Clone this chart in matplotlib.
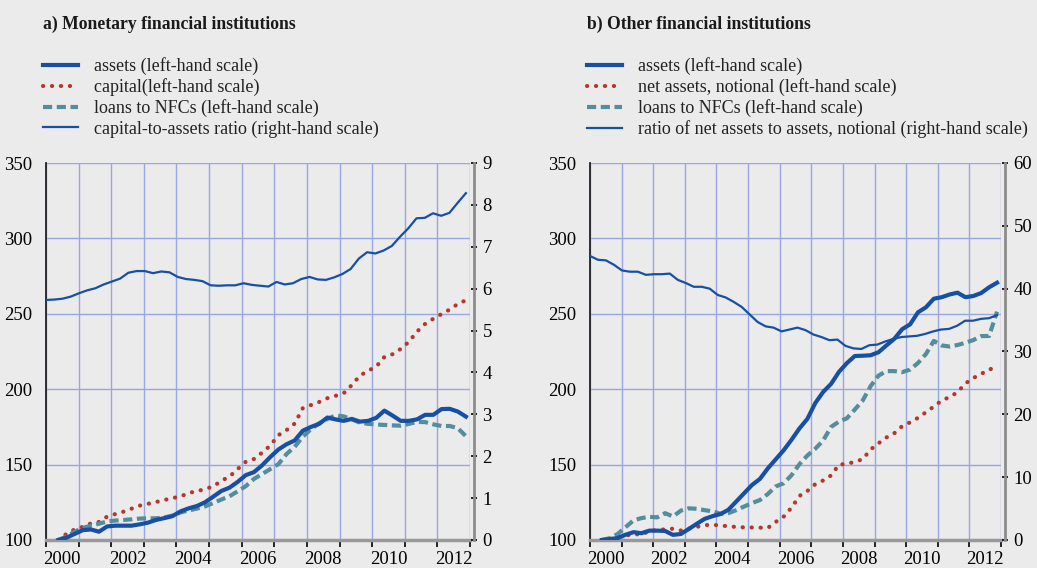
import numpy as np
import matplotlib
matplotlib.use('Agg')
import matplotlib.pyplot as plt

plt.rcParams['font.family'] = ['Liberation Serif', 'DejaVu Serif']

# quarterly observation dates (2000 Q2 .. 2012 Q4) and ratio dates
dates = 2000.375 + 0.25 * np.arange(51)
ratio_dates = np.linspace(2000.0, 2012.875, 52)

# a) Monetary financial institutions (index, 2000 = 100)
mfi_assets = [100, 101.5, 104, 106.5, 107, 105.5, 109, 109.5, 109.5, 109.5, 110.4,
              111.5, 113.3, 114.5, 115.8, 119, 121, 122.5, 125, 128.7, 132.5, 134.7,
              138.5, 143, 145, 149.5, 155, 160, 163.5, 166, 172.5, 175, 177, 181.2,
              180, 179, 180.3, 178.5, 179, 181, 185.8, 182.5, 179, 179, 180, 183,
              183, 186.8, 187, 185.2, 181.8]
mfi_capital = [100, 104, 107, 108.7, 111, 112, 115.5, 117.2, 118.8, 120.8, 122.8,
               124, 125.2, 126.5, 127.8, 128.8, 131.3, 132.2, 133.9, 135.4, 139.3,
               142, 147, 151.9, 153.7, 157.9, 162.6, 169.5, 172.9, 177.2, 187.5,
               189.5, 191.5, 194, 195.6, 197.3, 202.7, 209, 212.2, 215, 221.4, 223.2,
               226.7, 231.4, 238.2, 243.3, 246.7, 249.8, 252.8, 256.5, 259]
mfi_loans = [100, 102.2, 105.5, 108, 109.5, 110.8, 112.3, 112.9, 113.3, 113.7, 114.2,
             114.4, 114.4, 114.9, 116.2, 118.3, 119.6, 120.8, 122.3, 124.5, 126.8,
             129, 132.3, 135.7, 140.5, 143.7, 147, 150.3, 157, 161.8, 168.5, 173.5,
             177.4, 180.3, 182.6, 182, 180, 177.8, 177, 176.6, 176.3, 176, 175.8,
             177, 178.3, 178.2, 176.7, 175.6, 175.6, 174.2, 168.8]
mfi_ratio = [5.73, 5.74, 5.76, 5.81, 5.89, 5.96, 6.01, 6.1, 6.17, 6.24, 6.38, 6.42,
             6.42, 6.37, 6.41, 6.39, 6.28, 6.23, 6.21, 6.18, 6.08, 6.07, 6.08, 6.08,
             6.13, 6.09, 6.07, 6.05, 6.16, 6.1, 6.13, 6.23, 6.28, 6.22, 6.21, 6.27,
             6.35, 6.47, 6.72, 6.87, 6.84, 6.91, 7.02, 7.24, 7.44, 7.68, 7.69, 7.8,
             7.74, 7.81, 8.05, 8.28]

# b) Other financial institutions (index, 2000 = 100)
ofi_assets = [100, 100.6, 101.3, 103.5, 105.2, 104.5, 106.2, 106.2, 106, 103.4, 104,
              107.3, 110.7, 114, 115.8, 117.2, 120, 125.5, 131, 136.5, 140.5, 147.5,
              153.5, 159.5, 166.5, 174, 180.3, 190.8, 198.2, 203.5, 211.5, 217.3,
              222, 222.2, 222.5, 224.5, 229, 233.4, 239.8, 243, 251, 254.3, 260, 261,
              262.8, 264, 261, 261.8, 263.8, 267.6, 270.6]
ofi_net_assets = [100, 100.7, 101.6, 102.8, 104, 103.5, 106, 106.6, 107.1, 107.5,
                  106.3, 107.6, 108.7, 109.8, 110.2, 109.5, 109.2, 108.6, 108.4,
                  108.3, 108.2, 108, 112, 115.5, 121.5, 129.2, 132.5, 137, 139.5,
                  142.8, 150, 150.4, 151.9, 153.5, 160, 164.1, 168, 170.8, 175.5, 178,
                  181, 184.7, 188.5, 192.5, 194.8, 198, 203.8, 207.4, 210.3, 212.5,
                  216.8]
ofi_loans = [100, 101.2, 104, 108.5, 113, 114.5, 115.4, 115, 117.8, 115.6, 119.5, 121,
             120.7, 119.8, 119, 117.4, 117.8, 119.8, 122.2, 124.5, 126.5, 130.5,
             135.5, 137.6, 143, 150.3, 156, 160.5, 166, 175, 178.5, 180.7, 186.5,
             192.5, 202, 209, 212, 212, 211.3, 213, 217.4, 223.3, 232, 229, 228.3,
             229.3, 230.8, 232.6, 235.2, 235.3, 251.4]
ofi_ratio = [45.2, 44.6, 44.5, 43.8, 42.9, 42.7, 42.7, 42.2, 42.3, 42.3, 42.4, 41.4,
             40.9, 40.3, 40.3, 40.0, 39, 38.6, 37.9, 37.1, 35.9, 34.7, 34, 33.8, 33.2,
             33.5, 33.8, 33.4, 32.7, 32.3, 31.8, 31.9, 30.9, 30.5, 30.4, 31, 31.1,
             31.6, 32, 32.3, 32.4, 32.5, 32.8, 33.2, 33.5, 33.6, 34.1, 34.9, 34.9,
             35.2, 35.3, 35.8]

year_labels = ['2000', '2002', '2004', '2006', '2008', '2010', '2012']

BG = '#ebebeb'
BLUE = '#1750a3'
RED = '#b3382c'
TEAL = '#558d9c'
GRID = '#98a6e2'

W, H = 1037, 568
fig = plt.figure(figsize=(W / 100, H / 100), dpi=100, facecolor=BG)


def panel(left_px, right_px, title, labels, assets, second, loans, ratio,
          rmax, rstep):
    ax = fig.add_axes([left_px / W, 1 - 540 / H, (right_px - left_px) / W, 377 / H])
    ax.set_facecolor(BG)
    axr = ax.twinx()

    l1, = ax.plot(dates, assets, color=BLUE, lw=3.0, solid_joinstyle='round',
                  zorder=4)
    l2, = ax.plot(dates, second, color=RED, lw=3.0, dashes=(0.05, 2.1),
                  dash_capstyle='round', zorder=3)
    l3, = ax.plot(dates, loans, color=TEAL, lw=3.0, dashes=(2.2, 1.1), zorder=3)
    l4, = axr.plot(ratio_dates, ratio, color=BLUE, lw=1.6)

    ax.set_xlim(2000, 2013)
    ax.set_ylim(100, 350)
    ax.set_yticks([100, 150, 200, 250, 300, 350])
    axr.set_ylim(0, rmax)
    axr.set_yticks(np.arange(0, rmax + 1, rstep))

    ax.set_xticks(np.arange(2000, 2014), minor=True)
    ax.set_xticks(np.arange(2000.5, 2013, 2))
    ax.set_xticklabels(year_labels)
    ax.tick_params(axis='x', which='major', length=0, pad=8, labelsize=13.5)
    ax.tick_params(axis='x', which='minor', length=5, width=1.2, color='black',
                   direction='out')
    ax.tick_params(axis='y', length=0, pad=10, labelsize=13.5)
    axr.tick_params(axis='y', length=4, width=1.2, color='black',
                    direction='inout', pad=4, labelsize=13.5)

    ax.grid(True, which='minor', axis='x', color=GRID, lw=1)
    ax.grid(True, which='major', axis='y', color=GRID, lw=1)
    ax.set_axisbelow(True)

    for s in ['top', 'right']:
        ax.spines[s].set_visible(False)
    ax.spines['left'].set_color('#222222')
    ax.spines['left'].set_linewidth(1.3)
    ax.spines['bottom'].set_color('#999999')
    ax.spines['bottom'].set_linewidth(2.5)
    for s in ['top', 'left', 'bottom']:
        axr.spines[s].set_visible(False)
    axr.spines['right'].set_color('#8c8c8c')
    axr.spines['right'].set_linewidth(2)
    axr.spines['right'].set_position(('outward', 3))

    fig.text((left_px - 3) / W, 1 - 24 / H, title, fontsize=12.7,
             fontweight='bold', va='center', ha='left', color='#1a1a1a')
    fig.legend([l1, l2, l3, l4], labels, loc='upper left',
               bbox_to_anchor=((left_px - 3) / W, 1 - 57 / H),
               frameon=False, fontsize=13, handlelength=1.95,
               handletextpad=0.85, labelspacing=0.18, borderpad=0,
               borderaxespad=0, labelcolor='#222222')
    return ax


panel(46, 470, 'a) Monetary financial institutions',
      ['assets (left-hand scale)', 'capital(left-hand scale)',
       'loans to NFCs (left-hand scale)',
       'capital-to-assets ratio (right-hand scale)'],
      mfi_assets, mfi_capital, mfi_loans, mfi_ratio, 9, 1)

panel(590, 1001, 'b) Other financial institutions',
      ['assets (left-hand scale)', 'net assets, notional (left-hand scale)',
       'loans to NFCs (left-hand scale)',
       'ratio of net assets to assets, notional (right-hand scale)'],
      ofi_assets, ofi_net_assets, ofi_loans, ofi_ratio, 60, 10)

fig.savefig('out.png', dpi=100, facecolor=BG)
